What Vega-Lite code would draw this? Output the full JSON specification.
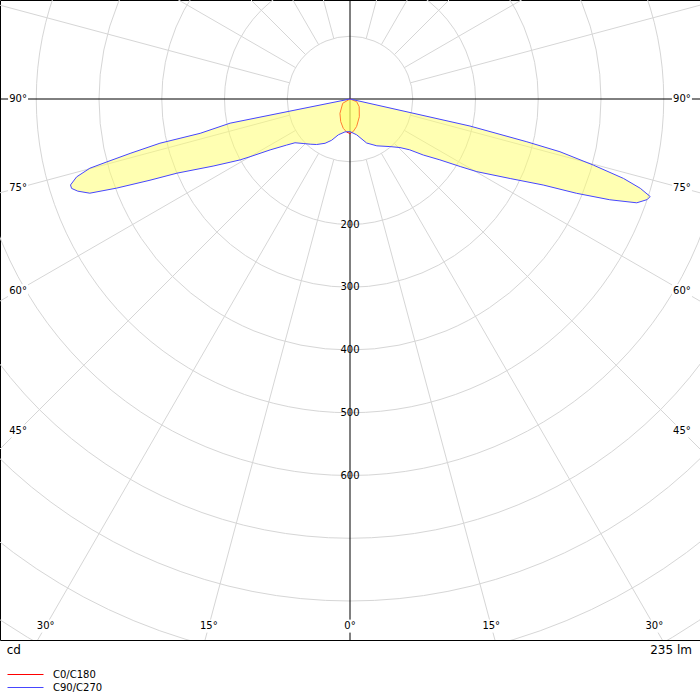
{
  "$schema": "https://vega.github.io/schema/vega-lite/v6.json",
  "width": 700,
  "height": 640,
  "padding": 0,
  "autosize": {"type": "pad"},
  "datasets": {
    "curves": [
      {"c": "C0/C180", "a": -90, "cd": 0},
      {"c": "C0/C180", "a": -59.5, "cd": 13.5},
      {"c": "C0/C180", "a": -35, "cd": 28},
      {"c": "C0/C180", "a": -22.3, "cd": 39},
      {"c": "C0/C180", "a": -12.9, "cd": 48},
      {"c": "C0/C180", "a": -5.7, "cd": 53},
      {"c": "C0/C180", "a": 0, "cd": 55},
      {"c": "C0/C180", "a": 5.8, "cd": 52},
      {"c": "C0/C180", "a": 13.6, "cd": 45},
      {"c": "C0/C180", "a": 27.7, "cd": 32},
      {"c": "C0/C180", "a": 50.4, "cd": 19},
      {"c": "C0/C180", "a": 68, "cd": 11.5},
      {"c": "C0/C180", "a": 90, "cd": 0},
      {"c": "C90/C270", "a": -90, "cd": 0},
      {"c": "C90/C270", "a": -78.6, "cd": 195},
      {"c": "C90/C270", "a": -77.1, "cd": 245},
      {"c": "C90/C270", "a": -76.9, "cd": 311},
      {"c": "C90/C270", "a": -76.1, "cd": 361},
      {"c": "C90/C270", "a": -75.5, "cd": 400},
      {"c": "C90/C270", "a": -75.1, "cd": 429},
      {"c": "C90/C270", "a": -74.1, "cd": 453},
      {"c": "C90/C270", "a": -72.9, "cd": 466},
      {"c": "C90/C270", "a": -72.2, "cd": 466},
      {"c": "C90/C270", "a": -71.3, "cd": 458},
      {"c": "C90/C270", "a": -70.1, "cd": 441},
      {"c": "C90/C270", "a": -69.1, "cd": 398},
      {"c": "C90/C270", "a": -67.9, "cd": 344},
      {"c": "C90/C270", "a": -66.8, "cd": 300},
      {"c": "C90/C270", "a": -63.9, "cd": 243},
      {"c": "C90/C270", "a": -62.2, "cd": 216},
      {"c": "C90/C270", "a": -61, "cd": 200},
      {"c": "C90/C270", "a": -60, "cd": 184},
      {"c": "C90/C270", "a": -57.5, "cd": 151},
      {"c": "C90/C270", "a": -54, "cd": 125},
      {"c": "C90/C270", "a": -51.5, "cd": 112},
      {"c": "C90/C270", "a": -46.5, "cd": 103},
      {"c": "C90/C270", "a": -41.4, "cd": 96},
      {"c": "C90/C270", "a": -36.3, "cd": 90},
      {"c": "C90/C270", "a": -29.4, "cd": 81},
      {"c": "C90/C270", "a": -24, "cd": 72},
      {"c": "C90/C270", "a": -18, "cd": 60},
      {"c": "C90/C270", "a": -8.7, "cd": 53},
      {"c": "C90/C270", "a": 0, "cd": 52},
      {"c": "C90/C270", "a": 10.5, "cd": 58},
      {"c": "C90/C270", "a": 20.7, "cd": 75},
      {"c": "C90/C270", "a": 29.8, "cd": 86},
      {"c": "C90/C270", "a": 40, "cd": 99},
      {"c": "C90/C270", "a": 45.8, "cd": 111},
      {"c": "C90/C270", "a": 49.6, "cd": 125},
      {"c": "C90/C270", "a": 52.6, "cd": 147},
      {"c": "C90/C270", "a": 55.9, "cd": 173},
      {"c": "C90/C270", "a": 58.5, "cd": 206},
      {"c": "C90/C270", "a": 60.2, "cd": 233},
      {"c": "C90/C270", "a": 63.6, "cd": 285},
      {"c": "C90/C270", "a": 66, "cd": 337},
      {"c": "C90/C270", "a": 67.4, "cd": 391},
      {"c": "C90/C270", "a": 68.8, "cd": 444},
      {"c": "C90/C270", "a": 70.1, "cd": 486},
      {"c": "C90/C270", "a": 71.3, "cd": 500},
      {"c": "C90/C270", "a": 72, "cd": 503},
      {"c": "C90/C270", "a": 72.9, "cd": 484},
      {"c": "C90/C270", "a": 73.8, "cd": 454},
      {"c": "C90/C270", "a": 74.8, "cd": 402},
      {"c": "C90/C270", "a": 75.9, "cd": 345},
      {"c": "C90/C270", "a": 76.4, "cd": 290},
      {"c": "C90/C270", "a": 77.3, "cd": 196},
      {"c": "C90/C270", "a": 90, "cd": 0}
    ],
    "rings": [
      {"r": 100}, {"r": 200}, {"r": 300}, {"r": 400}, {"r": 500},
      {"r": 600}, {"r": 700}, {"r": 800}, {"r": 900}, {"r": 1000}
    ],
    "rays": [
      {"a": -165}, {"a": -150}, {"a": -135}, {"a": -120}, {"a": -105},
      {"a": -75}, {"a": -60}, {"a": -45}, {"a": -30}, {"a": -15},
      {"a": 15}, {"a": 30}, {"a": 45}, {"a": 60}, {"a": 75},
      {"a": 105}, {"a": 120}, {"a": 135}, {"a": 150}, {"a": 165}
    ],
    "axes": [{"a": 0}, {"a": 90}],
    "angleLabels": [
      {"a": -90, "t": "90°"}, {"a": -75, "t": "75°"}, {"a": -60, "t": "60°"},
      {"a": -45, "t": "45°"}, {"a": -30, "t": "30°"}, {"a": -15, "t": "15°"},
      {"a": 0, "t": "0°"}, {"a": 15, "t": "15°"}, {"a": 30, "t": "30°"},
      {"a": 45, "t": "45°"}, {"a": 60, "t": "60°"}, {"a": 75, "t": "75°"},
      {"a": 90, "t": "90°"}
    ],
    "cdLabels": [
      {"cd": 200}, {"cd": 300}, {"cd": 400}, {"cd": 500}, {"cd": 600}
    ]
  },
  "encoding": {
    "x": {
      "field": "px",
      "type": "quantitative",
      "scale": {"domain": [-557.77, 557.77], "nice": false, "zero": false},
      "axis": null
    },
    "y": {
      "field": "py",
      "type": "quantitative",
      "scale": {"domain": [-157.77, 862.15], "reverse": true, "nice": false, "zero": false},
      "axis": null
    }
  },
  "layer": [
    {
      "data": {"name": "rings"},
      "transform": [
        {"calculate": "0", "as": "px"},
        {"calculate": "0", "as": "py"}
      ],
      "mark": {"type": "point", "shape": "circle", "filled": false, "color": "#d6d6d6", "strokeWidth": 1, "opacity": 1, "clip": true},
      "encoding": {
        "size": {
          "field": "r",
          "type": "quantitative",
          "scale": {"type": "pow", "exponent": 2, "domain": [0, 1000], "range": [0, 1575025]},
          "legend": null
        }
      }
    },
    {
      "data": {"name": "rays"},
      "transform": [
        {"calculate": "100 * sin(datum.a * PI / 180)", "as": "px"},
        {"calculate": "100 * cos(datum.a * PI / 180)", "as": "py"},
        {"calculate": "2000 * sin(datum.a * PI / 180)", "as": "px2"},
        {"calculate": "2000 * cos(datum.a * PI / 180)", "as": "py2"}
      ],
      "mark": {"type": "rule", "color": "#d6d6d6", "strokeWidth": 1, "clip": true},
      "encoding": {
        "x2": {"field": "px2"},
        "y2": {"field": "py2"}
      }
    },
    {
      "data": {"name": "axes"},
      "transform": [
        {"calculate": "-2000 * sin(datum.a * PI / 180)", "as": "px"},
        {"calculate": "-2000 * cos(datum.a * PI / 180)", "as": "py"},
        {"calculate": "2000 * sin(datum.a * PI / 180)", "as": "px2"},
        {"calculate": "2000 * cos(datum.a * PI / 180)", "as": "py2"}
      ],
      "mark": {"type": "rule", "color": "#000000", "strokeWidth": 1, "clip": true},
      "encoding": {
        "x2": {"field": "px2"},
        "y2": {"field": "py2"}
      }
    },
    {
      "data": {"name": "curves"},
      "transform": [
        {"calculate": "datum.cd * sin(datum.a * PI / 180)", "as": "px"},
        {"calculate": "datum.cd * cos(datum.a * PI / 180)", "as": "py"}
      ],
      "mark": {"type": "line", "fill": "#ffff66", "fillOpacity": 0.5, "strokeWidth": 1, "clip": true},
      "encoding": {
        "order": {"field": "a", "type": "quantitative"},
        "color": {
          "field": "c",
          "type": "nominal",
          "scale": {"domain": ["C0/C180", "C90/C270"], "range": ["#ff0000", "#4646ff"]},
          "legend": {
            "orient": "none",
            "legendX": 19,
            "legendY": 668,
            "title": null,
            "symbolType": "M-3,0H3",
            "symbolSize": 144,
            "symbolStrokeWidth": 1,
            "symbolFillColor": "transparent",
            "labelFontSize": 10,
            "labelFont": "DejaVu Sans",
            "labelColor": "#000000",
            "labelOffset": 21,
            "rowPadding": 1,
            "padding": 0
          }
        }
      }
    },
    {
      "data": {"name": "angleLabels"},
      "transform": [
        {"calculate": "min(529 / abs(sin(datum.a * PI / 180)), 840 / abs(cos(datum.a * PI / 180)))", "as": "rr"},
        {"calculate": "datum.rr * sin(datum.a * PI / 180)", "as": "px"},
        {"calculate": "datum.rr * cos(datum.a * PI / 180)", "as": "py"}
      ],
      "layer": [
        {
          "mark": {"type": "point", "shape": "M-1,-0.65H1V0.65H-1Z", "size": 400, "filled": true, "color": "#ffffff", "opacity": 1}
        },
        {
          "mark": {"type": "text", "align": "center", "baseline": "middle", "font": "DejaVu Sans", "fontSize": 10, "color": "#000000"},
          "encoding": {"text": {"field": "t"}}
        }
      ]
    },
    {
      "data": {"name": "cdLabels"},
      "transform": [
        {"calculate": "0", "as": "px"},
        {"calculate": "datum.cd", "as": "py"}
      ],
      "mark": {"type": "text", "align": "center", "baseline": "middle", "font": "DejaVu Sans", "fontSize": 10, "color": "#000000"},
      "encoding": {"text": {"field": "cd", "type": "quantitative"}}
    },
    {
      "data": {"values": [{"t": "cd"}]},
      "transform": [
        {"calculate": "-547", "as": "px"},
        {"calculate": "878", "as": "py"}
      ],
      "mark": {"type": "text", "align": "left", "baseline": "middle", "font": "DejaVu Sans", "fontSize": 12, "color": "#000000"},
      "encoding": {"text": {"field": "t"}}
    },
    {
      "data": {"values": [{"t": "235 lm"}]},
      "transform": [
        {"calculate": "545", "as": "px"},
        {"calculate": "878", "as": "py"}
      ],
      "mark": {"type": "text", "align": "right", "baseline": "middle", "font": "DejaVu Sans", "fontSize": 12, "color": "#000000"},
      "encoding": {"text": {"field": "t"}}
    }
  ],
  "config": {
    "font": "DejaVu Sans",
    "view": {"stroke": "#000000", "strokeWidth": 1}
  }
}
